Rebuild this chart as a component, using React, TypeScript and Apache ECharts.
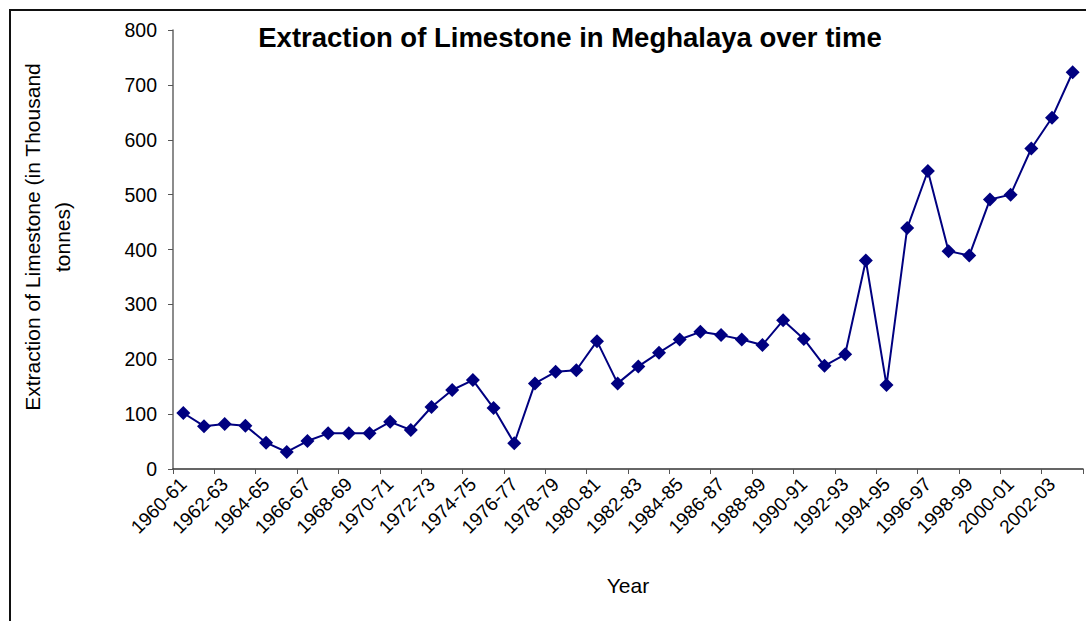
import React, { useEffect, useRef } from "react";
import * as echarts from "echarts";

const categories: string[] = [
  "1960-61", "1961-62", "1962-63", "1963-64", "1964-65", "1965-66", "1966-67", "1967-68",
  "1968-69", "1969-70", "1970-71", "1971-72", "1972-73", "1973-74", "1974-75", "1975-76",
  "1976-77", "1977-78", "1978-79", "1979-80", "1980-81", "1981-82", "1982-83", "1983-84",
  "1984-85", "1985-86", "1986-87", "1987-88", "1988-89", "1989-90", "1990-91", "1991-92",
  "1992-93", "1993-94", "1994-95", "1995-96", "1996-97", "1997-98", "1998-99", "1999-00",
  "2000-01", "2001-02", "2002-03", "2003-04",
];

const extraction: number[] = [
  102, 78, 82, 79, 48, 31, 51, 65,
  65, 65, 86, 71, 113, 144, 162, 111,
  47, 156, 177, 180, 233, 156, 187, 212,
  236, 250, 244, 236, 226, 271, 237, 188,
  209, 380, 153, 439, 543, 397, 389, 491,
  500, 584, 640, 723,
];

const yTicks = { min: 0, max: 800, interval: 100 };

const titleText = "Extraction of Limestone in Meghalaya over time";
const yAxisName = "Extraction of Limestone (in Thousand\ntonnes)";
const xAxisName = "Year";

const FONT = "'Liberation Sans', Arial, sans-serif";

export default function App() {
  const ref = useRef<HTMLDivElement>(null);
  useEffect(() => {
    if (!ref.current) return;
    const chart = echarts.init(ref.current, undefined, { renderer: "svg" });
    chart.setOption({
      animation: false,
      backgroundColor: "#ffffff",
      title: {
        text: titleText,
        left: 570,
        top: 23,
        padding: 0,
        textAlign: "center",
        textStyle: { fontFamily: FONT, fontWeight: "bold", fontSize: 27.5, color: "#000" },
      },
      graphic: [
        {
          type: "rect",
          shape: { x: 10, y: 10, width: 1200, height: 800 },
          style: { fill: "none", stroke: "#111", lineWidth: 2 },
          silent: true,
          z: -1,
        },
        {
          type: "text",
          x: 47,
          y: 237,
          rotation: Math.PI / 2,
          silent: true,
          style: {
            text: yAxisName,
            align: "center",
            verticalAlign: "middle",
            fontFamily: FONT,
            fontSize: 21,
            lineHeight: 30,
            fill: "#000",
          },
        },
      ],
      grid: { left: 173, right: 3, top: 30, bottom: 152, containLabel: false },
      xAxis: {
        type: "category",
        data: categories,
        boundaryGap: true,
        name: xAxisName,
        nameLocation: "middle",
        nameGap: 106,
        nameTextStyle: { fontFamily: FONT, fontSize: 21, color: "#000" },
        axisLine: { lineStyle: { color: "#333", width: 1.5 } },
        axisTick: { show: true, length: 5, lineStyle: { color: "#555" } },
        axisLabel: {
          interval: 1,
          rotate: 45,
          margin: 12,
          fontFamily: FONT,
          fontSize: 19,
          color: "#000",
        },
        splitLine: { show: false },
      },
      yAxis: {
        type: "value",
        min: yTicks.min,
        max: yTicks.max,
        interval: yTicks.interval,
        axisLine: { show: true, lineStyle: { color: "#666", width: 1.5 } },
        axisTick: { show: true, length: 5, lineStyle: { color: "#555" } },
        axisLabel: { margin: 16, fontFamily: FONT, fontSize: 19.5, color: "#000" },
        splitLine: { show: false },
      },
      series: [
        {
          type: "line",
          data: extraction,
          symbol: "diamond",
          symbolSize: 14,
          showAllSymbol: true,
          lineStyle: { color: "#000080", width: 2 },
          itemStyle: { color: "#000080" },
        },
      ],
    });
    return () => chart.dispose();
  }, []);
  return (
    <div
      ref={ref}
      style={{ position: "absolute", left: 0, top: 0, width: 1086, height: 621 }}
    />
  );
}
